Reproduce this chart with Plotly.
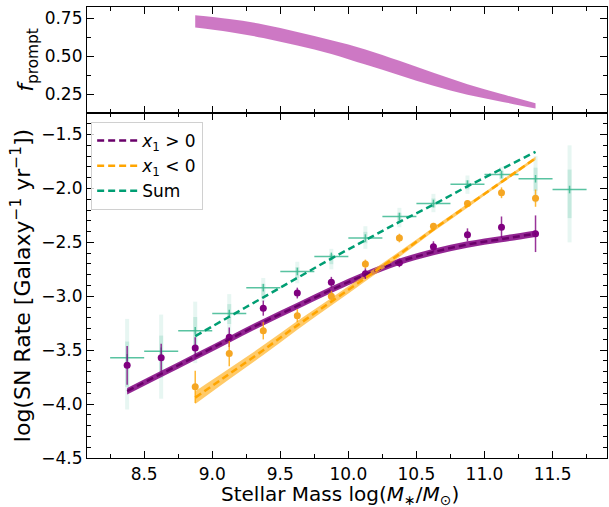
import plotly.graph_objects as go
from plotly.subplots import make_subplots

# ---------------- data ----------------
bins = [8.375, 8.625, 8.875, 9.125, 9.375, 9.625, 9.875, 10.125, 10.375, 10.625, 10.875, 11.125, 11.375, 11.625]

# model curves (x1>0 over bins up to 11.375, x1<0 and sum from 8.875)
model_x_pos = [8.375, 8.625, 8.875, 9.125, 9.375, 9.625, 9.875, 10.125, 10.375, 10.625, 10.875, 11.125, 11.375]
model_pos = [-3.88, -3.72, -3.56, -3.40, -3.24, -3.09, -2.94, -2.80, -2.68, -2.59, -2.52, -2.47, -2.42]
model_pos_halfwidth = [0.03, 0.03, 0.03, 0.03, 0.03, 0.03, 0.03, 0.03, 0.03, 0.03, 0.03, 0.03, 0.03]

model_x_neg = [8.875, 9.125, 9.375, 9.625, 9.875, 10.125, 10.375, 10.625, 10.875, 11.125, 11.375]
model_neg = [-3.94, -3.72, -3.50, -3.27, -3.05, -2.83, -2.61, -2.38, -2.16, -1.94, -1.72]
model_neg_halfwidth = [0.06, 0.05, 0.045, 0.04, 0.035, 0.03, 0.025, 0.02, 0.018, 0.015, 0.015]
model_sum = [-3.37, -3.19, -3.01, -2.83, -2.65, -2.48, -2.31, -2.15, -1.98, -1.82, -1.66]

# f_prompt band
fprompt_hi = [0.77, 0.745, 0.71, 0.66, 0.605, 0.545, 0.47, 0.39, 0.315, 0.25, 0.19]
fprompt_lo = [0.69, 0.66, 0.62, 0.57, 0.515, 0.445, 0.375, 0.305, 0.245, 0.20, 0.155]

# observed rates, x1>0
obs_x_pos = [8.375, 8.625, 8.875, 9.125, 9.375, 9.625, 9.875, 10.125, 10.375, 10.625, 10.875, 11.125, 11.375]
obs_pos = [-3.64, -3.57, -3.48, -3.38, -3.11, -2.97, -2.87, -2.79, -2.69, -2.54, -2.43, -2.36, -2.42]
obs_pos_err = [0.18, 0.13, 0.10, 0.09, 0.07, 0.05, 0.05, 0.05, 0.04, 0.05, 0.06, 0.10, 0.17]

# observed rates, x1<0
obs_x_neg = [8.875, 9.125, 9.375, 9.625, 9.875, 10.125, 10.375, 10.625, 10.875, 11.125, 11.375]
obs_neg = [-3.84, -3.53, -3.32, -3.18, -3.00, -2.70, -2.46, -2.35, -2.14, -2.04, -2.09]
obs_neg_err = [0.15, 0.12, 0.08, 0.06, 0.05, 0.04, 0.04, 0.03, 0.03, 0.05, 0.08]

# total observed rate (crosses) and sample cloud extents
obs_sum = [-3.57, -3.51, -3.32, -3.16, -2.92, -2.77, -2.63, -2.46, -2.26, -2.14, -1.96, -1.87, -1.91, -2.01]
cloud_lo = [-4.05, -3.95, -3.62, -3.35, -3.05, -2.88, -2.75, -2.56, -2.36, -2.22, -2.05, -1.95, -2.13, -2.50]
cloud_hi = [-3.21, -3.17, -3.05, -2.98, -2.83, -2.68, -2.56, -2.35, -2.18, -2.05, -1.88, -1.80, -1.70, -1.60]
bin_halfwidth = 0.125

PURPLE = "#800080"
GREEN = "#009E73"
GREEN_LIGHT = "rgba(60,185,145,0.85)"
BAND_TOP = "rgba(200,105,190,0.9)"
DASH = "7px,4px"

FONT = "DejaVu Sans"

fig = make_subplots(rows=2, cols=1, shared_xaxes=True, vertical_spacing=0,
                    row_heights=[0.235, 0.765])

# ---- top panel band ----
fig.add_trace(go.Scatter(x=model_x_neg, y=fprompt_hi, mode="lines", line=dict(width=0, shape="spline"),
                         showlegend=False, hoverinfo="skip"), row=1, col=1)
fig.add_trace(go.Scatter(x=model_x_neg, y=fprompt_lo, mode="lines", line=dict(width=0, shape="spline"),
                         fill="tonexty", fillcolor=BAND_TOP, showlegend=False, hoverinfo="skip"), row=1, col=1)

# ---- green sample cloud ----
cloud_mid = [(a + b) / 2 for a, b in zip(cloud_lo, cloud_hi)]
cloud_half = [(b - a) / 2 for a, b in zip(cloud_lo, cloud_hi)]
fig.add_trace(go.Scatter(x=bins, y=cloud_mid, mode="markers", marker=dict(size=0.1, color="rgba(0,0,0,0)"),
                         error_y=dict(type="data", array=cloud_half, color="rgba(60,185,145,0.12)",
                                      thickness=4, width=0),
                         showlegend=False, hoverinfo="skip"), row=2, col=1)
core_half = [h * 0.5 for h in cloud_half]
fig.add_trace(go.Scatter(x=bins, y=cloud_mid, mode="markers", marker=dict(size=0.1, color="rgba(0,0,0,0)"),
                         error_y=dict(type="data", array=core_half, color="rgba(60,185,145,0.2)",
                                      thickness=4, width=0),
                         showlegend=False, hoverinfo="skip"), row=2, col=1)

# ---- green crosses ----
fig.add_trace(go.Scatter(x=bins, y=obs_sum, mode="markers", marker=dict(size=0.1, color="rgba(0,0,0,0)"),
                         error_x=dict(type="constant", value=bin_halfwidth, color=GREEN_LIGHT,
                                      thickness=1.5, width=0),
                         error_y=dict(type="constant", value=0.035, color=GREEN_LIGHT,
                                      thickness=1.5, width=0),
                         showlegend=False, hoverinfo="skip"), row=2, col=1)

# ---- x1>0 model band ----
pos_hi = [m + h for m, h in zip(model_pos, model_pos_halfwidth)]
pos_lo = [m - h for m, h in zip(model_pos, model_pos_halfwidth)]
fig.add_trace(go.Scatter(x=model_x_pos, y=pos_hi, mode="lines", line=dict(width=0, shape="spline"),
                         showlegend=False, hoverinfo="skip"), row=2, col=1)
fig.add_trace(go.Scatter(x=model_x_pos, y=pos_lo, mode="lines", line=dict(width=0, shape="spline"),
                         fill="tonexty", fillcolor="rgba(128,0,128,0.85)", showlegend=False, hoverinfo="skip"),
              row=2, col=1)

# ---- x1<0 model band ----
neg_hi = [m + h for m, h in zip(model_neg, model_neg_halfwidth)]
neg_lo = [m - h for m, h in zip(model_neg, model_neg_halfwidth)]
fig.add_trace(go.Scatter(x=model_x_neg, y=neg_hi, mode="lines", line=dict(width=0, shape="spline"),
                         showlegend=False, hoverinfo="skip"), row=2, col=1)
fig.add_trace(go.Scatter(x=model_x_neg, y=neg_lo, mode="lines", line=dict(width=0, shape="spline"),
                         fill="tonexty", fillcolor="rgba(255,180,40,0.7)", showlegend=False, hoverinfo="skip"),
              row=2, col=1)

# ---- data points ----
fig.add_trace(go.Scatter(x=obs_x_pos, y=obs_pos, mode="markers",
                         marker=dict(size=7, color=PURPLE),
                         error_y=dict(type="data", array=obs_pos_err, color="rgba(128,0,128,0.8)",
                                      thickness=1.5, width=0),
                         showlegend=False, hoverinfo="skip"), row=2, col=1)
fig.add_trace(go.Scatter(x=obs_x_neg, y=obs_neg, mode="markers",
                         marker=dict(size=7, color="#F5A623"),
                         error_y=dict(type="data", array=obs_neg_err, color="rgba(255,165,0,0.8)",
                                      thickness=1.5, width=0),
                         showlegend=False, hoverinfo="skip"), row=2, col=1)

# ---- dashed model lines (legend) ----
fig.add_trace(go.Scatter(x=model_x_pos, y=model_pos, mode="lines", name="<i>x</i><sub>1</sub> &gt; 0",
                         line=dict(color="#6a006a", width=2.5, dash=DASH, shape="spline")), row=2, col=1)
fig.add_trace(go.Scatter(x=model_x_neg, y=model_neg, mode="lines", name="<i>x</i><sub>1</sub> &lt; 0",
                         line=dict(color="#FFA500", width=2.5, dash=DASH, shape="spline")), row=2, col=1)
fig.add_trace(go.Scatter(x=model_x_neg, y=model_sum, mode="lines", name="Sum",
                         line=dict(color=GREEN, width=2.5, dash=DASH, shape="spline")), row=2, col=1)

axis_common = dict(showline=True, linecolor="black", linewidth=1.2, mirror="allticks",
                   ticks="inside", ticklen=7, tickwidth=1, tickcolor="black",
                   showgrid=False, zeroline=False, automargin=False,
                   tickfont=dict(family=FONT, size=17, color="black"))

fig.update_xaxes(range=[8.08, 11.9], dtick=0.5, tick0=8.0, tickformat=".1f",
                 minor=dict(dtick=0.25, tick0=8.0, ticks="inside", ticklen=4, tickcolor="black"),
                 **axis_common)
fig.update_xaxes(showticklabels=False, row=1, col=1)

fig.update_yaxes(range=[0.125, 0.825], dtick=0.25, tick0=0,
                 minor=dict(dtick=0.125, tick0=0, ticks="inside", ticklen=4, tickcolor="black"),
                 tickformat=".2f",
                 title=dict(text="<i>f</i><sub>prompt</sub>", font=dict(family=FONT, size=22, color="black"),
                            standoff=4),
                 row=1, col=1, **axis_common)
fig.update_yaxes(range=[-4.5, -1.3], dtick=0.5, tick0=0,
                 minor=dict(dtick=0.1, tick0=0, ticks="inside", ticklen=4, tickcolor="black"),
                 tickformat=".1f",
                 title=dict(text="log(SN Rate [Galaxy<sup>−1</sup> yr<sup>−1</sup>])",
                            font=dict(family=FONT, size=22, color="black"), standoff=4),
                 row=2, col=1, **axis_common)

fig.add_annotation(text="Stellar Mass log(<i>M</i><sub>∗</sub>/<i>M</i><sub>⊙</sub>)",
                   xref="paper", yref="paper", x=0.487, y=-0.082, xanchor="center", yanchor="middle",
                   showarrow=False, font=dict(family=FONT, size=20, color="black"))

fig.update_layout(
    width=609, height=507,
    margin=dict(l=87, r=2, t=7, b=49),
    paper_bgcolor="white", plot_bgcolor="white",
    font=dict(family=FONT, color="black"),
    legend=dict(x=0.008, y=0.745, xanchor="left", yanchor="top",
                bgcolor="rgba(255,255,255,0.8)", bordercolor="#d0d0d0", borderwidth=1,
                font=dict(family=FONT, size=17, color="black"),
                traceorder="normal", tracegroupgap=0, itemwidth=40),
)

fig.write_html("out.html", config={"displayModeBar": False},
               post_script="document.body.style.margin='0';document.body.style.overflow='hidden';")
